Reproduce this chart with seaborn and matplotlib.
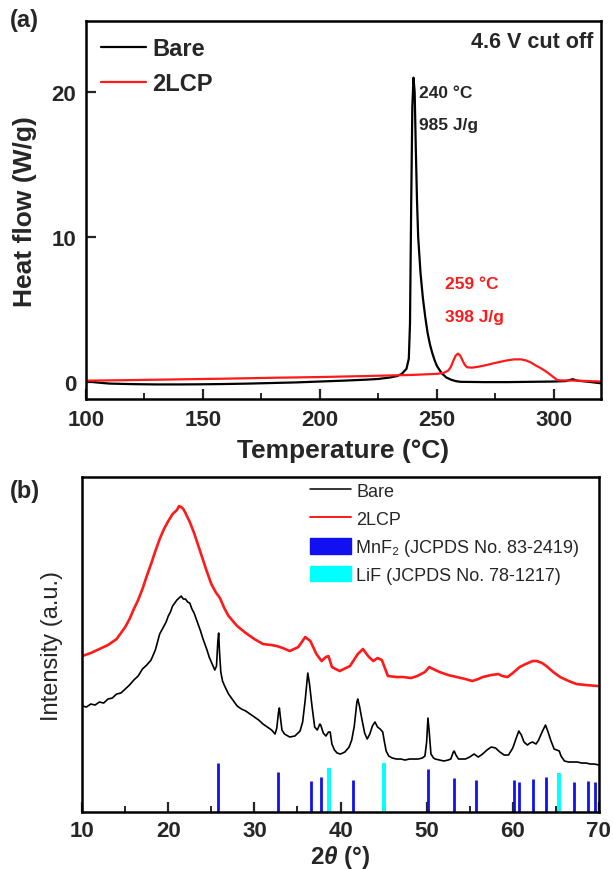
import numpy as np
import pandas as pd
import seaborn as sns
import matplotlib.pyplot as plt
from matplotlib.lines import Line2D
from matplotlib.patches import Patch
from matplotlib.ticker import MultipleLocator

# ---- (a) DSC data ----
bare_T = [100, 105, 110, 120, 130, 140, 150, 160, 170, 180, 190, 200, 210, 220, 225,
          230, 233, 235, 237, 238, 238.5, 239, 239.5, 240, 240.5, 241, 241.5, 242, 243,
          244, 245, 246, 247, 248, 249, 250, 252, 254, 256, 258, 260, 270, 280, 290,
          300, 305, 308, 310, 315, 320]
bare_hf = [0.05, -0.05, -0.12, -0.16, -0.18, -0.18, -0.17, -0.15, -0.12, -0.08, -0.04,
           0.02, 0.08, 0.15, 0.2, 0.3, 0.4, 0.55, 0.9, 1.6, 4.0, 12.0, 19.0, 21.0, 20.0,
           16.0, 12.5, 10.0, 7.5, 5.8, 4.5, 3.4, 2.6, 2.0, 1.5, 1.1, 0.6, 0.3, 0.15, 0.05,
           0.0, -0.02, -0.02, 0.0, 0.02, 0.05, 0.18, 0.08, 0.0, -0.1]

lcp_T = [100, 120, 140, 160, 180, 200, 220, 240, 250, 253, 255, 256, 257, 258, 259,
         260, 261, 262, 263, 265, 268, 271, 274, 277, 280, 283, 286, 288, 290, 292,
         294, 296, 298, 300, 301.5, 303, 310, 320]
lcp_hf = [0.08, 0.12, 0.17, 0.22, 0.28, 0.33, 0.4, 0.48, 0.55, 0.62, 0.8, 1.05, 1.45,
          1.8, 1.95, 1.8, 1.45, 1.15, 1.0, 0.98, 1.05, 1.15, 1.27, 1.38, 1.48, 1.55,
          1.55, 1.48, 1.35, 1.15, 0.98, 0.78, 0.55, 0.3, 0.12, 0.1, 0.08, 0.02]

# ---- (b) XRD data (arbitrary intensity units) ----
bare_2t = [10.0, 10.5, 11.0, 11.5, 12.0, 12.5, 13.0, 13.5, 14.0, 14.5, 15.0, 15.5, 16.0,
           16.5, 17.0, 17.5, 18.0, 18.5, 19.0, 19.25, 19.5, 19.75, 20.0, 20.25, 20.5,
           20.75, 21.0, 21.25, 21.5, 21.75, 22.0, 22.25, 22.5, 22.75, 23.0, 23.25, 23.5,
           23.75, 24.0, 24.25, 24.5, 24.75, 25.0, 25.2, 25.4, 25.6, 25.75, 25.85, 25.95,
           26.1, 26.3, 26.6, 27.0, 27.5, 28.0, 28.5, 29.0, 29.5, 30.0, 30.5, 31.0, 31.5,
           32.0, 32.4, 32.6, 32.8, 32.9, 33.0, 33.2, 33.5, 34.1, 34.7, 35.3, 35.6, 35.9,
           36.2, 36.4, 36.7, 37.0, 37.3, 37.6, 37.7, 38.0, 38.3, 38.6, 38.8, 39.0, 39.3,
           39.6, 40.0, 40.5, 41.0, 41.3, 41.6, 41.9, 42.0, 42.2, 42.5, 42.8, 43.1, 43.4,
           43.7, 44.0, 44.3, 44.6, 44.9, 45.1, 45.3, 45.6, 46.0, 46.5, 47.0, 47.5, 48.0,
           48.5, 49.0, 49.5, 49.8, 50.0, 50.15, 50.3, 50.5, 50.8, 51.0, 51.5, 52.0, 52.5,
           52.8, 53.1, 53.2, 53.4, 53.7, 54.0, 54.5, 55.0, 55.5, 56.0, 56.5, 57.0, 57.5,
           58.0, 58.5, 59.0, 59.5, 60.0, 60.4, 60.7, 61.0, 61.3, 61.7, 62.0, 62.3, 62.7,
           63.0, 63.4, 63.8, 64.1, 64.4, 64.8, 65.1, 65.4, 65.6, 66.0, 66.5, 67.0, 67.5,
           68.0, 68.5, 69.0, 69.5, 70.0]
bare_int = [106, 105, 108, 107, 110, 109, 113, 114, 118, 119, 123, 127, 132, 136, 143,
            147, 152, 162, 178, 182, 186, 190, 196, 200, 206, 209, 212, 214, 216, 213,
            213, 210, 209, 203, 199, 193, 187, 181, 174, 168, 162, 155, 150, 146, 142,
            146, 170, 179, 160, 140, 131, 125, 118, 112, 106, 103, 101, 98, 95, 92, 88,
            85, 82, 78, 84, 100, 104, 96, 82, 78, 75, 76, 81, 90, 112, 139, 128, 105, 85,
            82, 88, 87, 79, 76, 80, 80, 68, 62, 59, 58, 60, 65, 72, 86, 110, 113, 106,
            92, 79, 73, 78, 86, 90, 85, 83, 80, 70, 61, 56, 54, 53, 53, 52, 53, 53, 53,
            54, 56, 70, 94, 80, 58, 54, 53, 52, 51, 52, 53, 60, 61, 57, 53, 53, 53, 55,
            58, 55, 58, 62, 65, 64, 60, 57, 57, 64, 74, 81, 77, 70, 67, 69, 70, 68, 72,
            80, 87, 80, 72, 63, 62, 61, 56, 51, 50, 50, 50, 49, 49, 48, 48, 47]

lcp_2t = [10.0, 11.0, 12.0, 13.0, 14.0, 15.0, 15.5, 16.0, 16.5, 17.0, 17.5, 18.0, 18.5,
          19.0, 19.5, 20.0, 20.5, 21.0, 21.25, 21.5, 21.75, 22.0, 22.5, 23.0, 23.5,
          24.0, 24.5, 25.0, 25.5, 26.0, 26.5, 27.0, 28.0, 29.0, 29.5, 30.0, 31.0, 32.0,
          32.6, 33.3, 34.1, 35.1, 35.9, 36.5, 37.2, 37.8, 38.3, 38.6, 39.0, 39.9, 41.1,
          42.0, 42.6, 43.2, 43.8, 44.3, 44.8, 45.5, 46.5, 47.3, 48.2, 48.9, 49.8, 50.3,
          51.0, 51.5, 52.5, 53.5, 54.5, 55.3, 56.0, 56.5, 57.5, 58.3, 58.8, 59.4, 60.0,
          60.8, 61.5, 62.3, 62.8, 63.4, 63.9, 64.7, 65.5, 66.5, 67.4, 68.5, 69.9]
lcp_int = [156, 159, 163, 167, 173, 185, 193, 203, 212, 223, 236, 248, 261, 273, 283,
           291, 298, 302, 306, 305, 303, 299, 290, 279, 266, 253, 240, 228, 220, 214,
           204, 196, 186, 179, 176, 173, 168, 167, 166, 164, 161, 165, 175, 171, 158,
           151, 155, 156, 145, 141, 146, 158, 163, 156, 151, 154, 152, 136, 135, 135,
           134, 136, 140, 145, 142, 140, 137, 135, 133, 131, 133, 135, 137, 138, 136,
           135, 139, 145, 148, 151, 151, 149, 146, 140, 135, 131, 128, 127, 126]

mnf2_pos = [25.8, 32.7, 36.6, 37.7, 41.4, 50.2, 53.2, 55.7, 60.1, 60.7, 62.4, 63.9,
            67.1, 68.7, 69.6]
mnf2_h = [49, 40, 31, 35, 32, 43, 34, 32, 32, 30, 33, 35, 30, 31, 30]
lif_pos = [38.7, 45.0, 65.4]
lif_h = [44, 49, 39]

sns.set_style('ticks')
plt.rcParams['font.family'] = ['Liberation Sans', 'DejaVu Sans']
plt.rcParams['mathtext.fontset'] = 'custom'
plt.rcParams['mathtext.rm'] = 'Liberation Sans:bold'
plt.rcParams['mathtext.it'] = 'Liberation Sans:italic:bold'

fig = plt.figure(figsize=(6.13, 8.70), dpi=100)
ax1 = fig.add_axes([0.140, 0.540, 0.840, 0.4345])
ax2 = fig.add_axes([0.134, 0.0655, 0.843, 0.385])

# panel (a)
sns.lineplot(x=bare_T, y=bare_hf, color='black', lw=1.6, ax=ax1, label='Bare')
sns.lineplot(x=lcp_T, y=lcp_hf, color='#ff1a1a', lw=1.6, ax=ax1, label='2LCP')
ax1.set_xlim(100, 320)
ax1.set_ylim(-1.2, 24.9)
ax1.xaxis.set_major_locator(MultipleLocator(50))
ax1.xaxis.set_minor_locator(MultipleLocator(25))
ax1.yaxis.set_major_locator(MultipleLocator(10))
ax1.tick_params(axis='both', which='major', direction='in', length=7, width=1.6,
                labelsize=16, pad=7, top=False, right=False)
ax1.tick_params(axis='x', which='minor', direction='in', length=4, width=1.4)
for lab in ax1.get_xticklabels() + ax1.get_yticklabels():
    lab.set_fontweight('bold')
ax1.set_xlabel('Temperature (°C)', fontsize=19, fontweight='bold', labelpad=6)
ax1.set_ylabel('Heat flow (W/g)', fontsize=19, fontweight='bold', labelpad=10)
ax1.legend(loc='upper left', bbox_to_anchor=(0.03, 0.957), frameon=False,
           prop={'size': 17, 'weight': 'bold'}, handlelength=1.9, handletextpad=0.25,
           labelspacing=0.5, borderaxespad=0, borderpad=0)
ax1.text(0.985, 0.975, '4.6 V cut off', transform=ax1.transAxes, ha='right', va='top',
         fontsize=15.5, fontweight='bold')
ax1.text(242.5, 20.0, '240 °C', fontsize=12.5, fontweight='bold', va='center')
ax1.text(242.5, 17.8, '985 J/g', fontsize=12.5, fontweight='bold', va='center')
ax1.text(253.5, 6.8, '259 °C', fontsize=12.5, fontweight='bold', va='center', color='#ff1a1a')
ax1.text(253.5, 4.5, '398 J/g', fontsize=12.5, fontweight='bold', va='center', color='#ff1a1a')

# panel (b)
ax2.vlines(mnf2_pos, 0, mnf2_h, color='#1010f0', lw=2.0, zorder=1)
ax2.vlines(lif_pos, 0, lif_h, color='#00ffff', lw=2.8, zorder=1)
sns.lineplot(x=bare_2t, y=bare_int, color='black', lw=1.2, ax=ax2)
sns.lineplot(x=lcp_2t, y=lcp_int, color='#ff1a1a', lw=1.9, ax=ax2)
ax2.set_xlim(10, 70)
ax2.set_ylim(0, 335)
ax2.set_yticks([])
ax2.xaxis.set_major_locator(MultipleLocator(10))
ax2.xaxis.set_minor_locator(MultipleLocator(5))
ax2.tick_params(axis='x', which='major', direction='in', length=7, width=1.6,
                labelsize=16, pad=6, top=False)
ax2.tick_params(axis='x', which='minor', direction='in', length=4, width=1.4, top=False)
for lab in ax2.get_xticklabels():
    lab.set_fontweight('bold')
ax2.set_xlabel(r'2$\theta$ (°)', fontsize=17.5, fontweight='bold')
ax2.xaxis.set_label_coords(0.5, -0.092)
ax2.set_ylabel('Intensity (a.u.)', fontsize=17, labelpad=14)
handles = [Line2D([], [], color='black', lw=1.1), Line2D([], [], color='#ff1a1a', lw=1.4),
           Patch(color='#1010f0'), Patch(color='#00ffff')]
labels = ['Bare', '2LCP', 'MnF₂ (JCPDS No. 83-2419)', 'LiF (JCPDS No. 78-1217)']
ax2.legend(handles, labels, loc='upper left', bbox_to_anchor=(0.44, 0.985), frameon=False,
           fontsize=13, handlelength=2.3, handleheight=0.95, handletextpad=0.3,
           labelspacing=0.55, borderaxespad=0, borderpad=0)

for ax in (ax1, ax2):
    for sp in ax.spines.values():
        sp.set_linewidth(1.8)
        sp.set_color('black')

fig.text(0.016, 0.977, '(a)', fontsize=17, fontweight='bold', va='center')
fig.text(0.016, 0.4345, '(b)', fontsize=17, fontweight='bold', va='center')

fig.savefig('out.png', dpi=100)
